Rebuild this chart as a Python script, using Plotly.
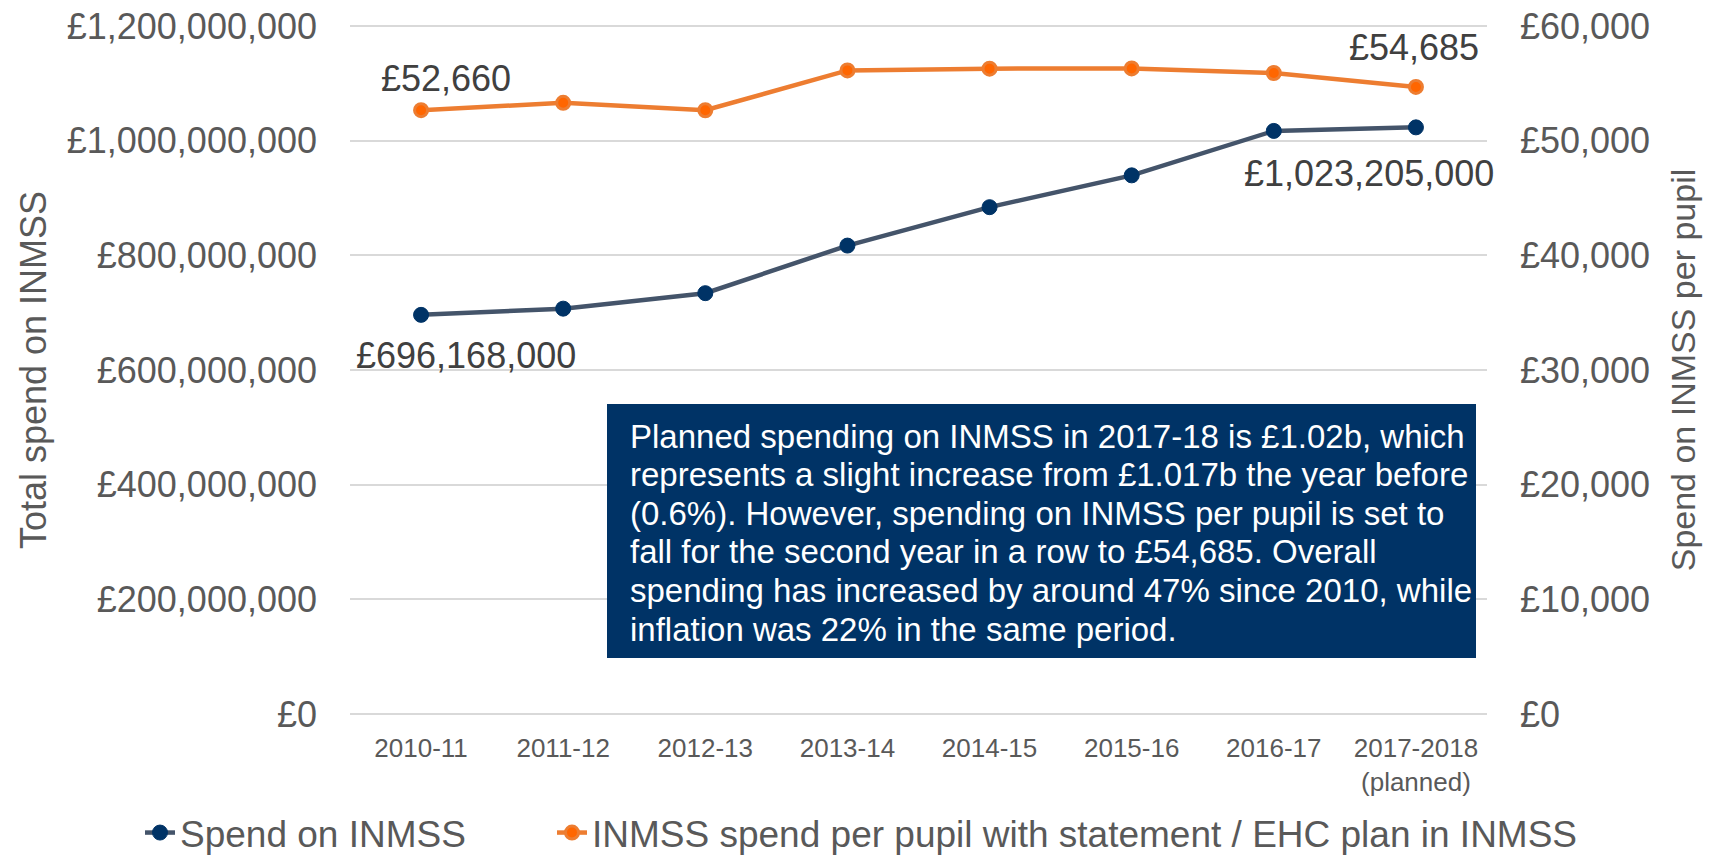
import plotly.graph_objects as go

# ---- data ----
years = ["2010-11", "2011-12", "2012-13", "2013-14", "2014-15", "2015-16", "2016-17",
         "2017-2018<br>(planned)"]
total_spend = [696168000, 707000000, 734000000, 817000000, 884000000, 939500000,
               1017000000, 1023205000]
per_pupil = [52660, 53300, 52650, 56130, 56280, 56300, 55900, 54685]

series_names = ["Spend on INMSS",
                "INMSS spend per pupil with statement / EHC plan in INMSS"]
left_ticks = [0, 200000000, 400000000, 600000000, 800000000, 1000000000, 1200000000]
right_ticks = [0, 10000, 20000, 30000, 40000, 50000, 60000]

note_lines = [
    "Planned spending on INMSS in 2017-18 is £1.02b, which",
    "represents a slight increase from £1.017b the year before",
    "(0.6%). However, spending on INMSS per pupil is set to",
    "fall for the second year in a row to £54,685. Overall",
    "spending has increased by around 47% since 2010, while",
    "inflation was 22% in the same period.",
]

FONT = "Liberation Sans, Arial, sans-serif"
GREY = "#595959"
DARK = "#404040"
BLUE_LINE = "#44546A"
BLUE_MK = "#003366"
ORANGE_LINE = "#ED7D31"
ORANGE_MK = "#FF6600"
NAVY = "#003366"

# body margin removed by post_script; gridlines in page pixels: x 350..1487, y 26 (max) .. 714 (0)
W, H = 1721, 856
PAD = 2  # px of padding so edge gridlines are drawn
PX0, PX1 = 350, 1487
PY0, PY1 = 26 - PAD, 714 + PAD
L = PX0
T = PY0
R = W - L - (PX1 - PX0)
B = H - T - (PY1 - PY0)

lpad = PAD * max(left_ticks) / 688.0
rpad = PAD * max(right_ticks) / 688.0


def px_x(x):
    return (x - PX0) / (PX1 - PX0)


def px_y(y):
    return (PY1 - y) / (PY1 - PY0)


fig = go.Figure()
fig.add_trace(go.Scatter(
    x=years, y=total_spend, name=series_names[0], mode="lines+markers",
    line=dict(color=BLUE_LINE, width=4.5),
    marker=dict(color=BLUE_MK, size=15, line=dict(color=BLUE_MK, width=1)),
    yaxis="y", legendwidth=367,
))
fig.add_trace(go.Scatter(
    x=years, y=per_pupil, name=series_names[1], mode="lines+markers",
    line=dict(color=ORANGE_LINE, width=4.5),
    marker=dict(color=ORANGE_MK, size=13, line=dict(color=ORANGE_LINE, width=3)),
    yaxis="y2",
))

annotations = []
# data labels
lab_specs = [
    (0, total_spend[0], "y", 45, -41),
    (7, total_spend[7], "y", -47, -46),
    (0, per_pupil[0], "y2", 25, 32),
    (7, per_pupil[7], "y2", -2, 39),
]
for idx, val, yref, dx, dy in lab_specs:
    annotations.append(dict(
        x=years[idx], y=val, xref="x", yref=yref, text=f"£{val:,}",
        showarrow=False, xanchor="center", yanchor="middle",
        xshift=dx, yshift=dy, font=dict(family=FONT, size=36, color=DARK),
    ))

line_y0, line_dy = 436, 38.6
for i, txt in enumerate(note_lines):
    annotations.append(dict(
        x=px_x(628), y=px_y(line_y0 + i * line_dy), xref="paper", yref="paper",
        text=txt, showarrow=False, xanchor="left", yanchor="middle",
        font=dict(family=FONT, size=33, color="white"),
    ))

shapes = [dict(
    type="rect", xref="paper", yref="paper",
    x0=px_x(607), x1=px_x(1476), y0=px_y(658), y1=px_y(404),
    fillcolor=NAVY, line=dict(width=0), layer="above",
)]

fig.update_layout(
    width=W, height=H,
    margin=dict(l=L, r=R, t=T, b=B, autoexpand=False),
    paper_bgcolor="white", plot_bgcolor="white",
    font=dict(family=FONT, color=GREY),
    showlegend=True,
    legend=dict(
        orientation="h", x=px_x(140), xanchor="left", y=px_y(833), yanchor="middle",
        font=dict(family=FONT, size=37, color=GREY), bgcolor="rgba(0,0,0,0)",
        borderwidth=0,
    ),
    xaxis=dict(
        type="category", range=[-0.5, 7.5], showgrid=False, zeroline=False,
        showline=False, ticks="", tickfont=dict(family=FONT, size=26, color=GREY),
        ticklabelstandoff=14,
    ),
    yaxis=dict(
        range=[-lpad, max(left_ticks) + lpad], tickmode="array", tickvals=left_ticks,
        ticktext=[f"£{v:,}" for v in left_ticks], ticklabeloverflow="allow",
        showgrid=True, gridcolor="#D9D9D9", gridwidth=2, zeroline=False,
        showline=False, ticks="", tickfont=dict(family=FONT, size=36, color=GREY),
        ticklabelstandoff=32,
        title=dict(text="Total spend on INMSS", font=dict(family=FONT, size=36, color=GREY),
                   standoff=9),
    ),
    yaxis2=dict(
        range=[-rpad, max(right_ticks) + rpad], tickmode="array", tickvals=right_ticks,
        ticktext=[f"£{v:,}" for v in right_ticks], ticklabeloverflow="allow",
        overlaying="y", side="right", showgrid=False, zeroline=False, showline=False,
        ticks="", tickfont=dict(family=FONT, size=36, color=GREY),
        ticklabelstandoff=32,
        title=dict(text="Spend on INMSS per pupil", font=dict(family=FONT, size=34, color=GREY),
                   standoff=22),
    ),
    annotations=annotations,
    shapes=shapes,
)

fig.write_html("out.html", config={"displayModeBar": False},
               post_script="document.body.style.margin='0';document.body.style.overflow='hidden';")
